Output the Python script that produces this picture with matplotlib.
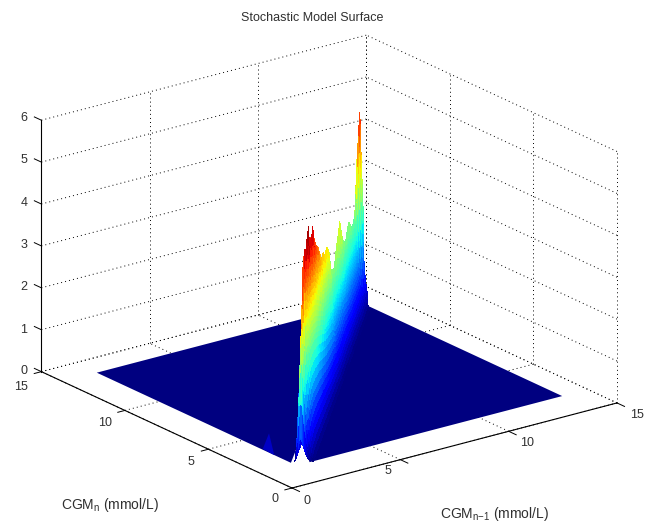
# -*- coding: utf-8 -*-
"""Stochastic model surface: MATLAB style 3D view, ridge along CGM_n = CGM_n-1."""

import matplotlib as mpl
mpl.use("Agg")
import matplotlib.pyplot as plt
import numpy as np
from mpl_toolkits.mplot3d import proj3d
from mpl_toolkits.mplot3d.art3d import Poly3DCollection

mpl.rcParams.update({
    "font.family": ["Liberation Sans", "DejaVu Sans"],
    "font.size": 9,
    "mathtext.fontset": "custom",
    "mathtext.rm": "Liberation Sans",
})

W, H = 653, 522
TEXT = "#303030"
DOT = (0, (1, 3.2))

x_ticks = [0, 5, 10, 15]
y_ticks = [0, 5, 10, 15]
z_ticks = [0, 1, 2, 3, 4, 5, 6]

# crest of the ridge
ridge_pos = [1.75, 1.82, 1.88, 1.93, 1.97, 2.10, 2.27, 2.45, 2.61, 2.78, 2.95, 3.10,
             3.27, 3.45, 3.61, 3.90, 4.16, 4.40, 4.62, 4.90, 5.22, 5.60, 5.97, 6.30,
             6.63, 7.00, 7.43, 7.63, 7.83, 8.13, 8.43, 8.70, 8.98, 9.30, 9.64, 9.90,
             10.18, 10.50, 10.84, 11.20, 11.51, 11.85, 12.19, 12.42, 12.65, 12.90,
             13.11, 13.40, 13.65, 13.73, 13.82]
ridge_height = [0.65, 1.60, 2.90, 2.50, 3.47, 4.00, 4.80, 4.70, 4.86, 4.70, 4.99, 4.75,
                5.20, 4.60, 4.82, 4.60, 4.91, 4.55, 4.38, 4.20, 4.07, 3.80, 3.54, 3.60,
                3.40, 3.50, 3.26, 3.00, 2.66, 2.62, 2.51, 2.65, 2.89, 3.05, 3.27, 2.95,
                2.67, 2.50, 2.41, 2.60, 2.65, 2.45, 2.31, 2.40, 2.43, 2.90,
                3.64, 4.10, 4.59, 4.35, 3.70]
# smoother body of the ridge just below the jagged crest
ridge_body = [0.65, 1.60, 2.40, 2.50, 3.00, 3.50, 4.00, 4.20, 4.40, 4.50, 4.55, 4.55,
              4.55, 4.50, 4.50, 4.40, 4.30, 4.20, 4.10, 3.95, 3.80, 3.60, 3.40, 3.30,
              3.20, 3.10, 3.00, 2.80, 2.60, 2.50, 2.45, 2.50, 2.60, 2.70, 2.70, 2.60,
              2.50, 2.40, 2.35, 2.35, 2.30, 2.30, 2.25, 2.30, 2.35, 2.70,
              3.30, 3.90, 4.30, 4.00, 3.40]

# cross-section of the ridge: offset from the crest and share of the crest height
cross_offset = [-0.36, -0.26, -0.16, -0.07, 0.00, 0.01, 0.02, 0.03, 0.04, 0.05, 0.06, 0.07,
                0.08, 0.09, 0.10, 0.11, 0.12, 0.13, 0.14, 0.15, 0.16, 0.18, 0.20, 0.22,
                0.24, 0.26, 0.28, 0.31, 0.34, 0.38, 0.43, 0.50, 0.58]
cross_share = [0.00, 0.22, 0.55, 0.85, 1.00, 0.97, 0.94, 0.91, 0.88, 0.85, 0.82, 0.79,
               0.76, 0.73, 0.70, 0.67, 0.64, 0.61, 0.58, 0.55, 0.52, 0.47, 0.42, 0.37,
               0.32, 0.27, 0.23, 0.18, 0.14, 0.10, 0.06, 0.03, 0.00]

# flat part of the surface (with the open notch at the front corner) and the small spur
floor_x = [1.57, 1.57, 3.50, 2.16, 13.82, 13.82]
floor_y = [13.72, 2.10, 4.00, 1.75, 1.75, 13.72]
spur_x = [1.57, 1.60, 1.62]
spur_y = [3.10, 3.45, 3.85]
spur_z = [0.00, 0.45, 0.00]

tick_text_x = [(307, 501), (388, 471), (527, 443), (637, 415)]
tick_text_y = [(275, 499), (191, 462), (105, 423), (21, 387)]
tick_text_z = [(24, 371), (24, 330), (24, 287), (24, 245), (24, 203), (24, 160), (24, 118)]

fig = plt.figure(figsize=(W / 100, H / 100), dpi=100, facecolor="white")
ax = fig.add_axes([-0.25, -0.35, 1.5, 1.7], projection="3d", computed_zorder=False)
ax.set_proj_type("ortho")
ax.view_init(elev=20.4, azim=-126.9)
ax.set_xlim(0, 15, view_margin=0)
ax.set_ylim(0, 15, view_margin=0)
ax.set_zlim(0, 6, view_margin=0)
ax.set_axis_off()


def pixel(x, y, z):
    px, py, _ = proj3d.proj_transform(x, y, z, ax.get_proj())
    sx, sy = ax.transData.transform((px, py))
    return sx, H - sy


# fit the box on the pixel positions of the original axes
aspect = (406, 417, 268)
ax.set_box_aspect(aspect, zoom=1.0)
fig.canvas.draw()
zoom = 325.0 / (pixel(15, 0, 0)[0] - pixel(0, 0, 0)[0])
ax.set_box_aspect(aspect, zoom=zoom)
fig.canvas.draw()
sx, sy = pixel(0, 0, 0)
pos = ax.get_position(original=True)
ax.set_position([pos.x0 + (292 - sx) / W, pos.y0 - (488 - sy) / H, pos.width, pos.height])
fig.canvas.draw()

# grid on the floor and the two back walls
for t in x_ticks:
    ax.plot([t, t], [0, 15], [0, 0], color="k", lw=0.7, ls=DOT, zorder=1)
    ax.plot([t, t], [15, 15], [0, 6], color="k", lw=0.7, ls=DOT, zorder=1)
for t in y_ticks:
    ax.plot([0, 15], [t, t], [0, 0], color="k", lw=0.7, ls=DOT, zorder=1)
    ax.plot([15, 15], [t, t], [0, 6], color="k", lw=0.7, ls=DOT, zorder=1)
for t in z_ticks:
    ax.plot([0, 15], [15, 15], [t, t], color="k", lw=0.7, ls=DOT, zorder=1)
    ax.plot([15, 15], [0, 15], [t, t], color="k", lw=0.7, ls=DOT, zorder=1)

# solid axes and outward ticks
ax.plot([0, 15], [0, 0], [0, 0], color="k", lw=0.8, zorder=2)
ax.plot([0, 0], [0, 15], [0, 0], color="k", lw=0.8, zorder=2)
ax.plot([0, 0], [15, 15], [0, 6], color="k", lw=0.8, zorder=2)
for t in x_ticks:
    ax.plot([t, t], [0, -0.45], [0, 0], color="k", lw=0.7, zorder=2)
for t in y_ticks:
    ax.plot([0, -0.33], [t, t], [0, 0], color="k", lw=0.7, zorder=2)
for t in z_ticks:
    ax.plot([0, 0], [15, 15.42], [t, t], color="k", lw=0.7, zorder=2)

jet = plt.get_cmap("jet")
zmax = 5.05

floor = Poly3DCollection([list(zip(floor_x, floor_y, [0] * len(floor_x)))],
                         facecolors=[jet(0.0)], edgecolors="none", zorder=3)
ax.add_collection3d(floor)

spur = Poly3DCollection([list(zip(spur_x, spur_y, spur_z))],
                        facecolors=[jet(0.06)], edgecolors="none", zorder=4)
ax.add_collection3d(spur)

s = np.array(ridge_pos)
d = np.array(cross_offset)
share = np.array(cross_share)
S, D = np.meshgrid(s, d, indexing="ij")
X = np.minimum(S + np.maximum(D, 0), 13.82)
Y = S + np.maximum(-D, 0)
# the jags of the crest only reach a little way down the flanks
Z = np.outer(ridge_body, share) + np.outer(np.array(ridge_height) - np.array(ridge_body), share ** 8)

ax.plot_surface(X, Y, Z, rstride=1, cstride=1, cmap="jet", vmin=0, vmax=zmax,
                linewidth=0, antialiased=False, shade=False, zorder=5)
# plot_surface may reset the limits
ax.set_xlim(0, 15, view_margin=0)
ax.set_ylim(0, 15, view_margin=0)
ax.set_zlim(0, 6, view_margin=0)


def put(px, py, text, **kw):
    fig.text(px / W, 1 - py / H, text, ha="center", va="center", color=TEXT, **kw)


for t, (px, py) in zip(x_ticks, tick_text_x):
    put(px, py, str(t))
for t, (px, py) in zip(y_ticks, tick_text_y):
    put(px, py, str(t))
for t, (px, py) in zip(z_ticks, tick_text_z):
    put(px, py, str(t))

put(312, 18, "Stochastic Model Surface")
put(110, 505, r"CGM$_{\mathrm{n}}$ (mmol/L)", fontsize=10)
put(495, 514, r"CGM$_{\mathrm{n\mathrm{-}1}}$ (mmol/L)", fontsize=10)

fig.savefig("out.png", dpi=100, facecolor="white")
plt.close(fig)
